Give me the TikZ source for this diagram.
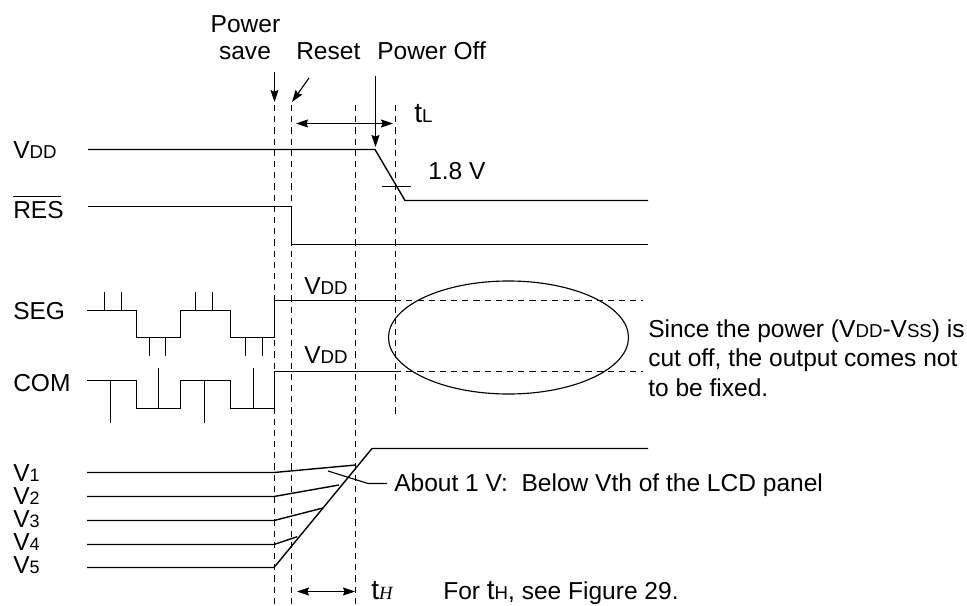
\documentclass[tikz,border=0pt]{standalone}
\usepackage{fontspec}
\setmainfont{Liberation Sans}
\newfontfamily\timesfont{Liberation Serif}
\usetikzlibrary{arrows.meta}
\newcommand{\smalltxt}[1]{{\fontsize{14pt}{16pt}\selectfont #1}}
\newcommand{\lowtxt}[1]{\raisebox{-0.5pt}{\fontsize{13.5pt}{16pt}\selectfont #1}}
\newcommand{\bigt}{{\fontsize{21pt}{22pt}\selectfont t}}
\tikzset{
  wave/.style={line width=1.05pt},
  thin wave/.style={line width=0.85pt},
  guide/.style={line width=0.8pt,dash pattern=on 4.6pt off 3.8pt},
  pointer/.style={line width=0.85pt,-{Stealth[length=9pt,width=6pt,inset=1.2pt]}},
  span/.style={line width=0.85pt,{Stealth[length=9pt,width=6pt,inset=1.2pt]}-{Stealth[length=9pt,width=6pt,inset=1.2pt]}},
  label/.style={anchor=base west,inner sep=0pt,font=\fontsize{18.4pt}{19.5pt}\selectfont}
}
\begin{document}
\begin{tikzpicture}[x=0.75pt,y=-0.75pt]
  \useasboundingbox (0,0) rectangle (967,606);
  % time marks
  \draw[guide] (274.5,105) -- (274.5,604);
  \draw[guide] (291.5,105) -- (291.5,604);
  \draw[guide] (355.5,105) -- (355.5,604);
  \draw[guide] (395.5,105) -- (395.5,418);
  % top labels
  \node[label,anchor=base] (save) at (245.5,33) {Power};
  \node[label,anchor=base] (save2) at (245,60) {save};
  \node[label] (reset) at (296,60) {Reset};
  \node[label] (off) at (377,60) {Power Off};
  \coordinate (saveA) at (274.5,72);
  \coordinate (saveB) at (274.5,102);
  \coordinate (resetA) at (309,78);
  \coordinate (resetB) at (292,102);
  \coordinate (offA) at (375.5,76);
  \coordinate (offB) at (375.5,147);
  \draw[pointer] (saveA) -- (saveB);
  \draw[pointer] (resetA) -- (resetB);
  \draw[pointer] (offA) -- (offB);
  \coordinate (tlA) at (296,123.5);
  \coordinate (tlB) at (393,123.5);
  \draw[span] (tlA) -- (tlB);
  \node[label] (tl) at (414,123) {\bigt\smalltxt{L}};
  % supply and reset
  \node[label] (vdd) at (13,159) {V\smalltxt{DD}};
  \node[label] (res) at (13,219) {\rlap{\rule[16.7pt]{36pt}{0.9pt}}RES};
  \draw[wave] (88,149.5) -- (375,149.5) -- (405,200.5) -- (648,200.5);
  \draw[wave] (382,186.5) -- (411,186.5);
  \node[label] (volt) at (428,180) {1.8 V};
  \draw[wave] (88,206.5) -- (291.5,206.5) -- (291.5,244.5) -- (648,244.5);
  % driver outputs
  \node[label] (seg) at (13,319) {SEG};
  \node[label] (com) at (13,391) {COM};
  \draw[wave] (87,310.5) -- (136.5,310.5) -- (136.5,337.5) -- (180.5,337.5) -- (180.5,310.5)
    -- (230.5,310.5) -- (230.5,337.5) -- (274.5,337.5) -- (274.5,300.5) -- (395,300.5);
  \draw[wave] (87,380.5) -- (136.5,380.5) -- (136.5,408.5) -- (180.5,408.5) -- (180.5,380.5)
    -- (230.5,380.5) -- (230.5,408.5) -- (274.5,408.5) -- (274.5,371.5) -- (395,371.5);
  \foreach \x in {104.5,121.5,195.5,212.5}
    \draw[thin wave] (\x,310.5) -- (\x,292);
  \foreach \x in {149.5,165.5,245.5,262.5}
    \draw[thin wave] (\x,337.5) -- (\x,356);
  \foreach \x in {110.5,204.5}
    \draw[thin wave] (\x,380.5) -- (\x,423);
  \foreach \x in {158.5,253.5}
    \draw[thin wave] (\x,408.5) -- (\x,368);
  \node[label] (segv) at (304,294) {V\smalltxt{DD}};
  \node[label] (comv) at (304,363) {V\smalltxt{DD}};
  \draw[guide] (395,300.5) -- (643,300.5);
  \draw[guide] (395,371.5) -- (643,371.5);
  \draw[thin wave] (508.5,337.5) ellipse [x radius=120,y radius=56.5];
  \node[label] (since) at (648,337) {Since the power (V\smalltxt{DD}-V\smalltxt{SS}) is};
  \node[label] (cut) at (648,366) {cut off, the output comes not};
  \node[label] (fixed) at (648,396) {to be fixed.};
  % voltage levels
  \foreach \name/\y in {1/481,2/504,3/527,4/550,5/573}
    \node[label] (v\name) at (13,\y) {V\lowtxt{\name}};
  \draw[wave] (87,472.5) -- (274,472.5) -- (355.7,465);
  \draw[wave] (87,496.5) -- (274,496.5) -- (339,485);
  \draw[wave] (87,520.5) -- (274,520.5) -- (323,508);
  \draw[wave] (87,544.5) -- (274,544.5) -- (297.3,536.7);
  \draw[wave] (87,567.5) -- (274,567.5) -- (372,448.5) -- (648,448.5);
  \node[label] (about) at (394,491) {About 1 V:\ \ Below Vth of the LCD panel};
  \coordinate (leadA) at (328,471);
  \coordinate (leadB) at (368,483.5);
  \coordinate (leadC) at (387,483.5);
  \draw[thin wave] (leadA) -- (leadB) -- (leadC);
  \coordinate (thA) at (297,591.5);
  \coordinate (thB) at (355,591.5);
  \draw[span] (thA) -- (thB);
  \node[label] (th) at (371,599) {\bigt{\timesfont\itshape\smalltxt{H}}};
  \node[label] (figref) at (443,599) {For \bigt\smalltxt{H}, see Figure 29.};
\end{tikzpicture}
\end{document}
